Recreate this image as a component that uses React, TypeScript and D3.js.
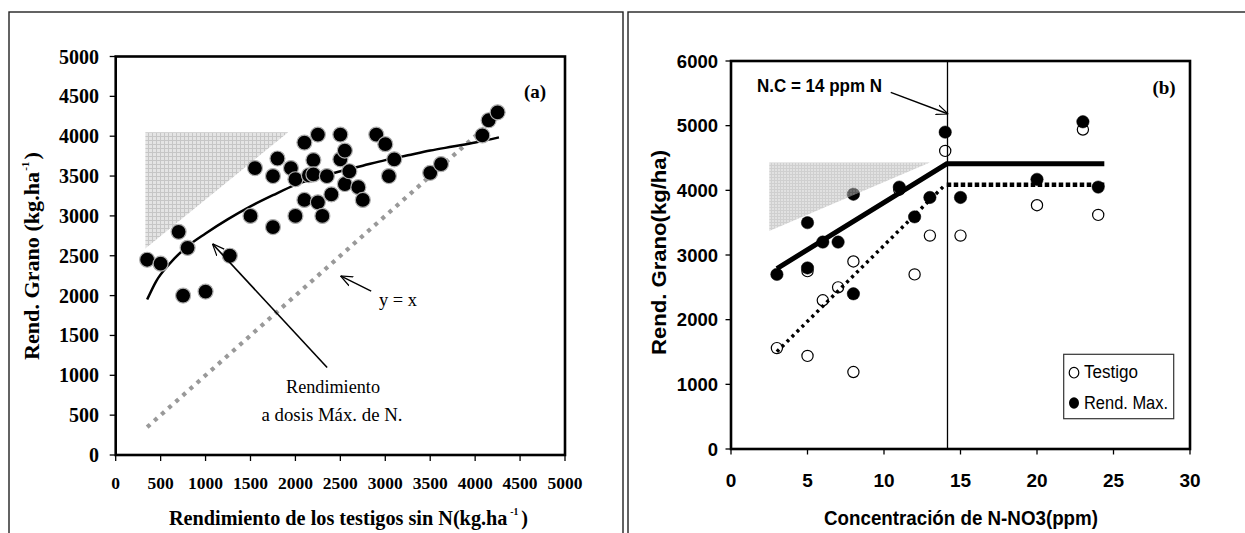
import React from "react";
import * as d3 from "d3";

// ---------- Panel (a) data ----------
const leftTicks = [0, 500, 1000, 1500, 2000, 2500, 3000, 3500, 4000, 4500, 5000];
const leftPoints: [number, number][] = [
  [350, 2450], [500, 2400], [700, 2800], [800, 2600], [750, 2000], [1000, 2050],
  [1270, 2500], [1500, 3000], [1550, 3600], [1750, 2860], [1750, 3500], [1800, 3720],
  [1950, 3600], [2000, 3460], [2000, 3000], [2100, 3920], [2100, 3200], [2150, 3510],
  [2200, 3700], [2200, 3520], [2250, 4020], [2250, 3170], [2300, 3000], [2350, 3500],
  [2400, 3270], [2500, 4020], [2500, 3710], [2550, 3820], [2550, 3400], [2600, 3560],
  [2700, 3360], [2750, 3200], [2900, 4020], [3000, 3900], [3040, 3500], [3100, 3710],
  [3500, 3540], [3620, 3650], [4080, 4010], [4150, 4200], [4250, 4300],
];
const leftCurve: [number, number][] = [
  [350, 1950], [450, 2180], [600, 2400], [800, 2620], [1000, 2780], [1250, 2960],
  [1500, 3120], [1750, 3260], [2000, 3390], [2250, 3480], [2500, 3560], [2750, 3630],
  [3000, 3700], [3250, 3760], [3500, 3820], [3750, 3870], [4000, 3920], [4265, 3985],
];
const leftIdentity: [number, number][] = [[350, 350], [4270, 4270]];
const leftTriangle: [number, number][] = [[330, 4050], [1920, 4050], [330, 2590]];
const arrowYX: [number, number][] = [[2843, 2055], [2502, 2247]];
const arrowRend: [number, number][] = [[2353, 1098], [1076, 2651]];

// ---------- Panel (b) data ----------
const rightXTicks = [0, 5, 10, 15, 20, 25, 30];
const rightYTicks = [0, 1000, 2000, 3000, 4000, 5000, 6000];
const testigo: [number, number][] = [
  [3, 1560], [5, 1440], [5, 2750], [6, 2300], [7, 2500], [8, 2900], [8, 1190],
  [11, 4010], [12, 2700], [13, 3300], [14, 4610], [15, 3300], [20, 3770], [23, 4940], [24, 3620],
];
const rendMax: [number, number][] = [
  [3, 2700], [5, 3500], [5, 2800], [6, 3200], [7, 3200], [8, 3940], [8, 2400],
  [11, 4050], [12, 3590], [13, 3890], [14, 4900], [15, 3890], [20, 4170], [23, 5060], [24, 4050],
];
const rendMaxFit: [number, number][] = [[3, 2790], [14.1, 4410], [24.4, 4410]];
const testigoFitRise: [number, number][] = [[3, 1505], [13.95, 4075]];
const testigoFitFlat: [number, number][] = [[14.1, 4085], [24.4, 4085]];
const criticalN = 14.15;
const rightTriangle: [number, number][] = [[2.5, 4430], [13, 4430], [2.5, 3370]];
const arrowNC: [number, number][] = [[10.44, 5516], [14.2, 5180]];

const SERIF = "'Liberation Serif', 'Times New Roman', serif";
const SANS = "'Liberation Sans', Arial, sans-serif";

export default function App() {
  const xL = d3.scaleLinear().domain([0, 5000]).range([115.7, 565]);
  const yL = d3.scaleLinear().domain([0, 5000]).range([455, 56.5]);
  const xR = d3.scaleLinear().domain([0, 30]).range([731, 1190]);
  const yR = d3.scaleLinear().domain([0, 6000]).range([449, 61]);

  const lineL = d3.line<[number, number]>().x((d) => xL(d[0])).y((d) => yL(d[1]));
  const curveL = d3
    .line<[number, number]>()
    .x((d) => xL(d[0]))
    .y((d) => yL(d[1]))
    .curve(d3.curveMonotoneX);
  const lineR = d3.line<[number, number]>().x((d) => xR(d[0])).y((d) => yR(d[1]));

  return (
    <svg
      width={1245}
      height={533}
      style={{ position: "absolute", left: 0, top: 0, background: "#fff" }}
    >
      <defs>
        <pattern id="gridL" width={4} height={4} patternUnits="userSpaceOnUse">
          <rect width={4} height={4} fill="#e4e4e4" />
          <path d="M0 0.5H4M0.5 0V4" stroke="#c6c6c6" strokeWidth={1} />
        </pattern>
        <pattern id="gridR" width={3} height={3} patternUnits="userSpaceOnUse">
          <rect width={3} height={3} fill="#c8c8c8" />
          <path d="M0 0.5H3M0.5 0V3" stroke="#a8a8a8" strokeWidth={1} />
        </pattern>
        <marker
          id="openArrow"
          viewBox="0 0 12 12"
          refX={12}
          refY={6}
          markerWidth={12}
          markerHeight={12}
          markerUnits="userSpaceOnUse"
          orient="auto"
        >
          <path d="M0,1 L12,6 L0,11" fill="none" stroke="#000" strokeWidth={1.2} />
        </marker>
      </defs>

      {/* outer frames */}
      <rect x={9} y={12} width={614} height={545} fill="none" stroke="#222" strokeWidth={1.4} />
      <rect x={628} y={12} width={640} height={545} fill="none" stroke="#222" strokeWidth={1.4} />

      {/* ================= Panel (a) ================= */}
      <path d={lineL(leftTriangle)! + "Z"} fill="url(#gridL)" stroke="none" />
      <path
        d={lineL(leftIdentity)!}
        fill="none"
        stroke="#999"
        strokeWidth={4.2}
        strokeDasharray="4 5.5"
      />
      <path d={curveL(leftCurve)!} fill="none" stroke="#000" strokeWidth={2.5} />
      {leftPoints.map((p, i) => (
        <circle
          key={"lp" + i}
          cx={xL(p[0])}
          cy={yL(p[1])}
          r={7.5}
          fill="#000"
          stroke="#b0b0b0"
          strokeWidth={1.2}
        />
      ))}
      <path d={lineL(arrowYX)!} fill="none" stroke="#000" strokeWidth={1.4} markerEnd="url(#openArrow)" />
      <path d={lineL(arrowRend)!} fill="none" stroke="#000" strokeWidth={1.6} markerEnd="url(#openArrow)" />

      {/* axes box */}
      <rect
        x={xL(0)}
        y={yL(5000)}
        width={xL(5000) - xL(0)}
        height={yL(0) - yL(5000)}
        fill="none"
        stroke="#000"
        strokeWidth={2.6}
      />
      {leftTicks.map((t) => (
        <g key={"ly" + t}>
          <line x1={xL(0) - 6} x2={xL(0)} y1={yL(t)} y2={yL(t)} stroke="#000" strokeWidth={1.3} />
          <text
            x={99}
            y={yL(t)}
            dy="0.35em"
            textAnchor="end"
            fontFamily={SERIF}
            fontWeight="bold"
            fontSize={20}
          >
            {t}
          </text>
        </g>
      ))}
      {leftTicks.map((t) => (
        <g key={"lx" + t}>
          <line x1={xL(t)} x2={xL(t)} y1={yL(0)} y2={yL(0) + 6} stroke="#000" strokeWidth={1.3} />
          <text
            x={xL(t)}
            y={489}
            textAnchor="middle"
            fontFamily={SERIF}
            fontWeight="bold"
            fontSize={17.5}
          >
            {t}
          </text>
        </g>
      ))}

      {/* panel (a) texts */}
      <text x={535} y={98} textAnchor="middle" fontFamily={SERIF} fontWeight="bold" fontSize={19}>
        (a)
      </text>
      <text x={398} y={306} textAnchor="middle" fontFamily={SERIF} fontSize={18} textLength={38} lengthAdjust="spacingAndGlyphs">
        y = x
      </text>
      <text x={333} y={393} textAnchor="middle" fontFamily={SERIF} fontSize={18} textLength={94} lengthAdjust="spacingAndGlyphs">
        Rendimiento
      </text>
      <text x={332} y={421} textAnchor="middle" fontFamily={SERIF} fontSize={18} textLength={141} lengthAdjust="spacingAndGlyphs">
        a dosis Máx. de N.
      </text>

      {/* x title (a) */}
      <text x={169} y={525} fontFamily={SERIF} fontWeight="bold" fontSize={21} textLength={359} lengthAdjust="spacingAndGlyphs">
        <tspan>Rendimiento de los testigos sin N(kg.ha</tspan>
        <tspan dx={3} dy={-10} fontSize={10}>-1</tspan>
        <tspan dx={3} dy={10}>)</tspan>
      </text>

      {/* y title (a) */}
      <g transform="translate(39,360) rotate(-90)">
        <text x={0} y={0} fontFamily={SERIF} fontWeight="bold" fontSize={20} textLength={208} lengthAdjust="spacingAndGlyphs">
          <tspan>Rend. Grano (kg.ha</tspan>
          <tspan dx={1} dy={-10} fontSize={10}>-1</tspan>
          <tspan dx={2} dy={10}>)</tspan>
        </text>
      </g>

      {/* ================= Panel (b) ================= */}
      {testigo.map((p, i) => (
        <circle
          key={"tp" + i}
          cx={xR(p[0])}
          cy={yR(p[1])}
          r={5.6}
          fill="#fff"
          stroke="#000"
          strokeWidth={1.2}
        />
      ))}
      {rendMax.map((p, i) => (
        <circle key={"rp" + i} cx={xR(p[0])} cy={yR(p[1])} r={6.2} fill="#000" stroke="#000" strokeWidth={0.5} />
      ))}
      <path d={lineR(rendMaxFit)!} fill="none" stroke="#000" strokeWidth={5} />
      <path
        d={lineR(testigoFitRise)!}
        fill="none"
        stroke="#000"
        strokeWidth={3.5}
        strokeDasharray="3 4"
      />
      <path
        d={lineR(testigoFitFlat)!}
        fill="none"
        stroke="#000"
        strokeWidth={4.5}
        strokeDasharray="4.5 2.5"
      />
      <path d={lineR(rightTriangle)! + "Z"} fill="url(#gridR)" opacity={0.55} stroke="none" />
      <line
        x1={xR(criticalN)}
        x2={xR(criticalN)}
        y1={yR(6000)}
        y2={yR(0)}
        stroke="#000"
        strokeWidth={1.3}
      />
      <path d={lineR(arrowNC)!} fill="none" stroke="#000" strokeWidth={1.4} markerEnd="url(#openArrow)" />

      {/* axes box (b) */}
      <rect
        x={xR(0)}
        y={yR(6000)}
        width={xR(30) - xR(0)}
        height={yR(0) - yR(6000)}
        fill="none"
        stroke="#000"
        strokeWidth={2.6}
      />
      {rightYTicks.map((t) => (
        <g key={"ry" + t}>
          <line x1={xR(0) - 5.5} x2={xR(0)} y1={yR(t)} y2={yR(t)} stroke="#000" strokeWidth={1.3} />
          <text
            x={718}
            y={yR(t)}
            dy="0.36em"
            textAnchor="end"
            fontFamily={SANS}
            fontWeight="bold"
            fontSize={18.5}
          >
            {t}
          </text>
        </g>
      ))}
      {rightXTicks.map((t) => (
        <g key={"rx" + t}>
          <line x1={xR(t)} x2={xR(t)} y1={yR(0)} y2={yR(0) + 5.5} stroke="#000" strokeWidth={1.3} />
          <text
            x={xR(t)}
            y={487}
            textAnchor="middle"
            fontFamily={SANS}
            fontWeight="bold"
            fontSize={19}
          >
            {t}
          </text>
        </g>
      ))}

      {/* panel (b) texts */}
      <text x={1164} y={94} textAnchor="middle" fontFamily={SERIF} fontWeight="bold" fontSize={19}>
        (b)
      </text>
      <text x={757} y={92} fontFamily={SANS} fontWeight="bold" fontSize={18} textLength={125} lengthAdjust="spacingAndGlyphs">
        N.C = 14 ppm N
      </text>
      <text x={824} y={525} fontFamily={SANS} fontWeight="bold" fontSize={21} textLength={274} lengthAdjust="spacingAndGlyphs">
        Concentración de N-NO3(ppm)
      </text>
      <g transform="translate(666,355) rotate(-90)">
        <text x={0} y={0} fontFamily={SANS} fontWeight="bold" fontSize={20} textLength={205} lengthAdjust="spacingAndGlyphs">
          Rend. Grano(kg/ha)
        </text>
      </g>

      {/* legend */}
      <rect x={1063.7} y={354.3} width={110} height={64.4} fill="#fff" stroke="#333" strokeWidth={1.2} />
      <ellipse cx={1074} cy={372.7} rx={4.8} ry={5.3} fill="#fff" stroke="#000" strokeWidth={1.2} />
      <text x={1084} y={378} fontFamily={SANS} fontSize={18} textLength={54} lengthAdjust="spacingAndGlyphs">
        Testigo
      </text>
      <ellipse cx={1074} cy={403} rx={5} ry={5.8} fill="#000" />
      <text x={1084} y={409} fontFamily={SANS} fontSize={18} textLength={84} lengthAdjust="spacingAndGlyphs">
        Rend. Max.
      </text>
    </svg>
  );
}
